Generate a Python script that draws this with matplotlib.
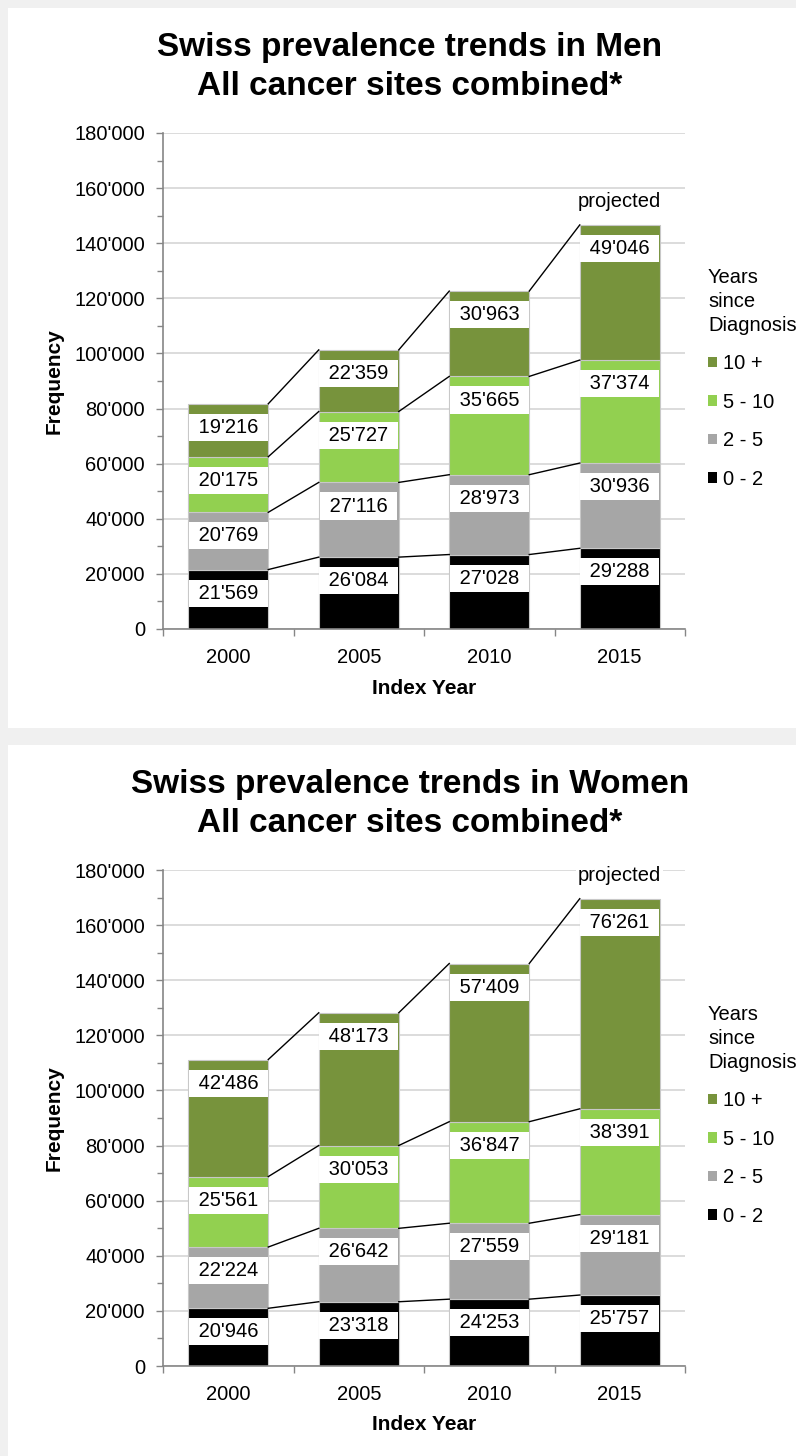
import numpy as np
import matplotlib
matplotlib.use("Agg")
import matplotlib.pyplot as plt
from matplotlib.patches import Rectangle
from matplotlib.ticker import FuncFormatter, MultipleLocator, FixedLocator

plt.rcParams['font.family'] = ['Liberation Sans', 'DejaVu Sans']

years = ["2000", "2005", "2010", "2015"]
series_names = ["0 - 2", "2 - 5", "5 - 10", "10 +"]
colors = ["#000000", "#A6A6A6", "#92D050", "#77933C"]

men_0_2 = [21569, 26084, 27028, 29288]
men_2_5 = [20769, 27116, 28973, 30936]
men_5_10 = [20175, 25727, 35665, 37374]
men_10p = [19216, 22359, 30963, 49046]

women_0_2 = [20946, 23318, 24253, 25757]
women_2_5 = [22224, 26642, 27559, 29181]
women_5_10 = [25561, 30053, 36847, 38391]
women_10p = [42486, 48173, 57409, 76261]

titles = ["Swiss prevalence trends in Men\nAll cancer sites combined*",
          "Swiss prevalence trends in Women\nAll cancer sites combined*"]

W, H = 796, 1456
fig = plt.figure(figsize=(W / 100, H / 100), dpi=100, facecolor="#F0F0F0")

def px_rect(x0, y0, x1, y1):
    return [x0 / W, 1 - y1 / H, (x1 - x0) / W, (y1 - y0) / H]

# white panels
for (y0, y1) in [(8, 728), (745, 1456)]:
    r = Rectangle((8 / W, 1 - y1 / H), (W - 8) / W, (y1 - y0) / H,
                  transform=fig.transFigure, facecolor="white", edgecolor="none", zorder=-10)
    fig.patches.append(r)

fmt = FuncFormatter(lambda v, p: f"{int(v):,}".replace(",", "'"))
bar_w = 0.613
gray_axis = "#868686"
fs = 14.5

panels = [
    (133, 629, [men_0_2, men_2_5, men_5_10, men_10p], titles[0], 0),
    (870, 1366, [women_0_2, women_2_5, women_5_10, women_10p], titles[1], 737),
]

for top, bot, data, title, off in panels:
    ax = fig.add_axes(px_rect(163, top, 685, bot))
    ax.set_zorder(1)
    ax.set_facecolor("none")
    x = np.arange(len(years))
    data = np.array(data, dtype=float)
    cum = np.cumsum(data, axis=0)
    bottoms = cum - data
    handles = []
    for k in range(len(series_names)):
        b = ax.bar(x, data[k], bottom=bottoms[k], width=bar_w, color=colors[k],
                   edgecolor="#C8C8C8", linewidth=0.8, zorder=2, label=series_names[k])
        handles.append(b)
        for i in range(len(years)):
            ax.annotate(" " + f"{int(data[k][i]):,}".replace(",", "'") + " ",
                        xy=(x[i], cum[k][i]), xytext=(0, -17), textcoords="offset points",
                        ha="center", va="center", fontsize=fs, color="black", zorder=4,
                        bbox=dict(boxstyle="square,pad=0.2", fc="white", ec="none"))
        # series lines
        for i in range(len(years) - 1):
            ax.plot([x[i] + bar_w / 2, x[i + 1] - bar_w / 2], [cum[k][i], cum[k][i + 1]],
                    color="black", linewidth=1.0, zorder=3)
    total_last = cum[-1][-1]
    ax.text(x[-1], total_last + 8500, "projected", ha="center", va="center", fontsize=fs,
            zorder=5, bbox=dict(boxstyle="square,pad=0.1", fc="white", ec="none"))

    ax.set_ylim(0, 180000)
    ax.set_xlim(-0.5, 3.5)
    ax.yaxis.set_major_locator(MultipleLocator(20000))
    ax.yaxis.set_minor_locator(MultipleLocator(10000))
    ax.yaxis.set_major_formatter(fmt)
    ax.grid(axis="y", which="major", color="#D9D9D9", linewidth=1.3, zorder=0)
    ax.set_axisbelow(True)
    ax.xaxis.set_major_locator(FixedLocator([-0.5, 0.5, 1.5, 2.5, 3.5]))
    ax.xaxis.set_major_formatter(FuncFormatter(lambda v, p: ""))
    ax.set_xticks(x, minor=True)
    ax.set_xticklabels(years, minor=True)
    ax.tick_params(axis="x", which="major", direction="out", length=5, color=gray_axis, width=1)
    ax.tick_params(axis="x", which="minor", length=0, pad=14, labelsize=fs)
    ax.tick_params(axis="y", which="both", direction="out", color=gray_axis, width=1)
    ax.tick_params(axis="y", which="major", length=5, pad=8, labelsize=fs)
    ax.tick_params(axis="y", which="minor", length=4)
    for s in ["top", "right"]:
        ax.spines[s].set_visible(False)
    for s in ["left", "bottom"]:
        ax.spines[s].set_color(gray_axis)
        ax.spines[s].set_linewidth(1.2)

    ax.set_ylabel("Frequency", fontsize=15, fontweight="bold")
    ax.yaxis.set_label_coords(-(163 - 54) / (685 - 163), 0.5)
    ax.set_xlabel("Index Year", fontsize=15, fontweight="bold")
    ax.xaxis.set_label_coords(0.5, -(688 + off - bot) / (bot - top))
    ax.xaxis.label.set_va("center")
    ax.yaxis.label.set_va("center")

    fig.text(410 / W, 1 - (67 + off) / H, title, ha="center", va="center", fontsize=24,
             fontweight="bold", linespacing=1.35)

    leg = ax.legend(handles=handles[::-1], labels=series_names[::-1],
                    title="Years\nsince\nDiagnosis", loc="upper left",
                    bbox_to_anchor=(708 / W, 1 - (268 + off) / H), bbox_transform=fig.transFigure,
                    frameon=False, fontsize=fs, title_fontsize=fs, handlelength=0.45,
                    handleheight=0.45, handletextpad=0.3, labelspacing=0.97, borderpad=0,
                    borderaxespad=0, alignment="left")
    leg.get_title().set_linespacing(1.32)
    for h in leg.legend_handles:
        h.set_edgecolor("none")

fig.savefig("out.png", dpi=100, facecolor=fig.get_facecolor())
